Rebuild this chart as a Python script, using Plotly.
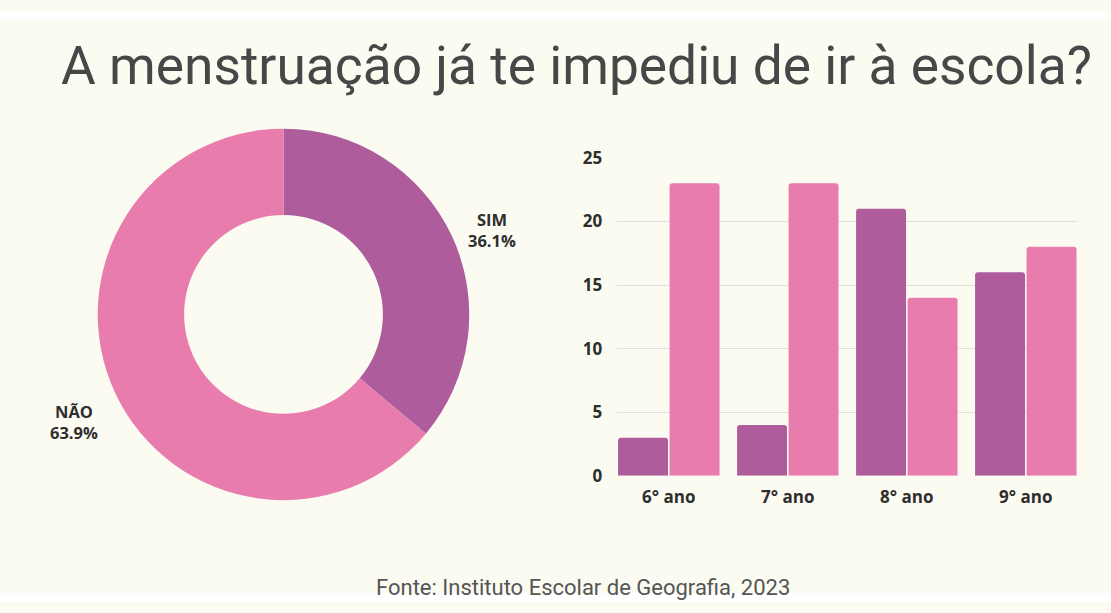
import plotly.graph_objects as go

W, H = 1111, 613

# Data
pie_labels = ["SIM", "NÃO"]
pie_values = [36.1, 63.9]
categories = ["6° ano", "7° ano", "8° ano", "9° ano"]
sim_values = [3, 4, 21, 16]
nao_values = [23, 23, 14, 18]
y_ticks = [0, 5, 10, 15, 20, 25]

PURPLE = "#AF5C9D"
PINK = "#E87CAC"
BG = "#FBFBF2"
TEXT = "#2E2E2E"

def px_x(x):
    return x / W

def px_y(y):
    return 1 - y / H

fig = go.Figure()

fig.add_trace(go.Pie(
    labels=pie_labels, values=pie_values,
    hole=0.535, sort=False, direction="clockwise", rotation=0,
    marker=dict(colors=[PURPLE, PINK], line=dict(width=0)),
    textinfo="none", showlegend=False,
    domain=dict(x=[px_x(97.5), px_x(469.5)], y=[px_y(507.2), px_y(121.2)]),
))

fig.add_trace(go.Bar(x=categories, y=sim_values, marker=dict(color=PURPLE, line=dict(width=0)),
                     showlegend=False, name="SIM"))
fig.add_trace(go.Bar(x=categories, y=nao_values, marker=dict(color=PINK, line=dict(width=0)),
                     showlegend=False, name="NÃO"))

BARGAP = 0.1345
fig.update_layout(
    width=W, height=H,
    margin=dict(l=0, r=0, t=0, b=0),
    paper_bgcolor=BG, plot_bgcolor=BG,
    barmode="group", bargap=BARGAP, bargroupgap=0.03, barcornerradius=3,
    xaxis=dict(domain=[px_x(617.3), px_x(1077.3)],
               range=[-0.5 + BARGAP / 2, len(categories) - 0.5 - BARGAP / 2],
               showgrid=False, zeroline=False, showline=False,
               tickfont=dict(family="Open Sans", size=17, color=TEXT, weight="bold"),
               ticks="", ticklabelstandoff=9),
    yaxis=dict(domain=[px_y(481.9), px_y(151.5)], range=[0, 25], tickvals=y_ticks,
               showgrid=True, gridcolor="#E0E0D8", gridwidth=1, zeroline=False, showline=False,
               tickfont=dict(family="Open Sans", size=17, color=TEXT, weight="bold"),
               ticks="", ticklabelstandoff=14),
    font=dict(family="Open Sans"),
)

# Title
fig.add_annotation(text="A menstruação já te impediu de ir à escola?", x=px_x(576), y=px_y(56.2),
                   xref="paper", yref="paper", showarrow=False, xanchor="center", yanchor="middle",
                   font=dict(family="Roboto", size=53.3, color="#474747"))
# Pie labels
fig.add_annotation(text="<b>SIM</b><br><b>36.1%</b>", x=px_x(491.5), y=px_y(226.5),
                   xref="paper", yref="paper", showarrow=False, xanchor="center", yanchor="middle",
                   font=dict(family="Open Sans", size=16.5, color=TEXT))
fig.add_annotation(text="<b>NÃO</b><br><b>63.9%</b>", x=px_x(74), y=px_y(426),
                   xref="paper", yref="paper", showarrow=False, xanchor="center", yanchor="middle",
                   font=dict(family="Open Sans", size=16.5, color=TEXT))
# Footer
fig.add_annotation(text="Fonte: Instituto Escolar de Geografia, 2023", x=px_x(582.5), y=px_y(597.5),
                   xref="paper", yref="paper", showarrow=False, xanchor="center", yanchor="middle",
                   font=dict(family="Roboto", size=22, color="#555555"))

# White strips top / bottom
fig.add_shape(type="rect", xref="paper", yref="paper", x0=0, x1=1, y0=px_y(7), y1=1,
              fillcolor="white", line=dict(width=0), layer="below")
fig.add_shape(type="rect", xref="paper", yref="paper", x0=0, x1=1, y0=0, y1=px_y(604),
              fillcolor="white", line=dict(width=0), layer="below")

fig.write_html("out.html")
